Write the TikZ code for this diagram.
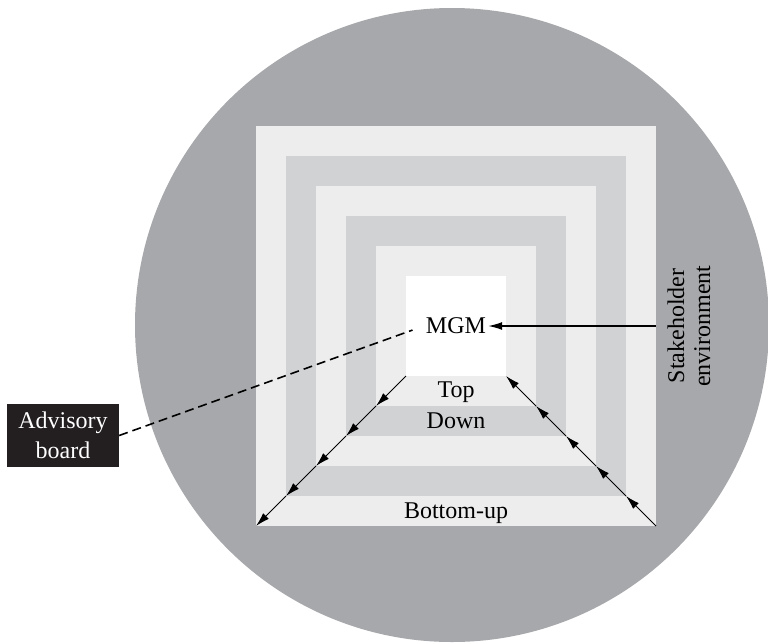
\documentclass[tikz,border=0pt]{standalone}
\usepackage{fontspec}
\setmainfont{Liberation Serif}
\usetikzlibrary{arrows.meta}
\definecolor{envgray}{RGB}{167,168,171}
\definecolor{bandlight}{RGB}{237,237,237}
\definecolor{banddark}{RGB}{209,210,212}
\definecolor{boardblack}{RGB}{35,31,32}
\begin{document}
\begin{tikzpicture}[x=1pt,y=-1pt,
  layer/.style={rectangle,inner sep=0pt,outer sep=0pt,minimum size=#1},
  lbl/.style={font=\fontsize{24}{28}\selectfont,inner sep=0pt},
  flow/.style={line width=1pt,-{Latex[length=14pt,width=8pt]}},
  feed/.style={line width=1.4pt,-{Latex[length=14pt,width=8pt]}},
  advice/.style={line width=1.6pt,dash pattern=on 9pt off 5pt}]
\useasboundingbox (0,0) rectangle (768,643);
\clip (0,0) rectangle (768,643);

% stakeholder environment
\node[circle,fill=envgray,inner sep=0pt,minimum size=634pt] (env) at (452,325) {};

% nested organisational layers
\node[layer=400pt,fill=bandlight] (sq0) at (456,326) {};
\node[layer=340pt,fill=banddark]  (sq1) at (456,326) {};
\node[layer=280pt,fill=bandlight] (sq2) at (456,326) {};
\node[layer=220pt,fill=banddark]  (sq3) at (456,326) {};
\node[layer=160pt,fill=bandlight] (sq4) at (456,326) {};
\node[layer=100pt,fill=white]     (sq5) at (456,326) {};

% labels
\node[lbl,inner sep=2pt] (mgm) at (456,326) {MGM};
\node[lbl,anchor=base] (top) at (456,397) {Top};
\node[lbl,anchor=base] (down) at (456,428) {Down};
\node[lbl,anchor=base] (bu) at (456,518) {Bottom-up};
\node[lbl,rotate=90,align=center,font=\fontsize{24}{26}\selectfont] (stake) at (689,326) {Stakeholder\\environment};

% advisory board
\node[rectangle,fill=boardblack,text=white,align=center,minimum width=112pt,minimum height=63pt,
      inner sep=0pt,font=\fontsize{24}{30}\selectfont] (adv) at (63,435.5) {Advisory\\board};

% top-down flow (left) and bottom-up flow (right)
\draw[flow] (sq5.south west) -- (sq4.south west);
\draw[flow] (sq4.south west) -- (sq3.south west);
\draw[flow] (sq3.south west) -- (sq2.south west);
\draw[flow] (sq2.south west) -- (sq1.south west);
\draw[flow] (sq1.south west) -- (sq0.south west);

\draw[flow] (sq0.south east) -- (sq1.south east);
\draw[flow] (sq1.south east) -- (sq2.south east);
\draw[flow] (sq2.south east) -- (sq3.south east);
\draw[flow] (sq3.south east) -- (sq4.south east);
\draw[flow] (sq4.south east) -- (sq5.south east);

% stakeholder input and advisory link
\draw[feed] (sq0.east) -- (mgm.east);
\draw[advice,shorten >=12pt] (adv.east) -- (mgm.west);
\end{tikzpicture}
\end{document}
